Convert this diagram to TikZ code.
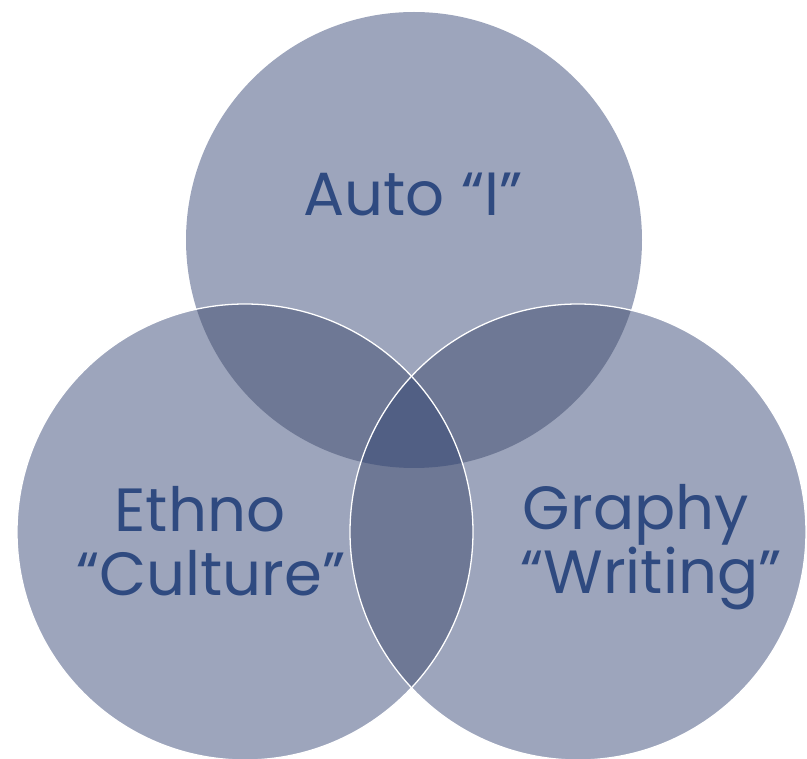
\documentclass[tikz,border=0pt]{standalone}
\usepackage{fontspec}
\setmainfont{Poppins}
\usetikzlibrary{positioning}

\definecolor{setone}{HTML}{9DA5BC}
\definecolor{settwo}{HTML}{6E7895}
\definecolor{setthree}{HTML}{515F84}
\definecolor{setlabel}{HTML}{2F4A80}

\begin{document}
\begin{tikzpicture}[x=1pt, y=-1pt,
        setname/.style={text=setlabel, inner sep=0pt, anchor=base,
            font=\fontsize{61}{66}\selectfont}]

            \useasboundingbox (0,0) rectangle (807,759);
            \clip (0,0) rectangle (807,759);

            % circle centres and the common radius
            \coordinate (T) at (414,240);
            \coordinate (L) at (245,532);
            \coordinate (R) at (578,532);
            \def\rad{228pt}

            % plain discs
            \foreach \c in {T, L, R}
                \fill[setone] (\c) circle (\rad);

            % pairwise overlaps
            \begin{scope}
                \clip (T) circle (\rad);
                \fill[settwo] (L) circle (\rad);
                \fill[settwo] (R) circle (\rad);
            \end{scope}
            \begin{scope}
                \clip (L) circle (\rad);
                \fill[settwo] (R) circle (\rad);
            \end{scope}

            % middle part shared by all three
            \begin{scope}
                \clip (T) circle (\rad);
                \clip (L) circle (\rad);
                \fill[setthree] (R) circle (\rad);
            \end{scope}

            \draw[white, line width=1.3pt] (L) circle (\rad);
            \draw[white, line width=1.3pt] (R) circle (\rad);

            \node[setname] (auto) at (413,216) {Auto “I”};
            \node[setname] (ethno) at (200,532) {Ethno};
            \node[setname] (culture) at (211,596) {“Culture”};
            \node[setname] (graphy) at (636,530) {Graphy};
            \node[setname] (writing) at (651,594) {“Writing”};

        \end{tikzpicture}
\end{document}
